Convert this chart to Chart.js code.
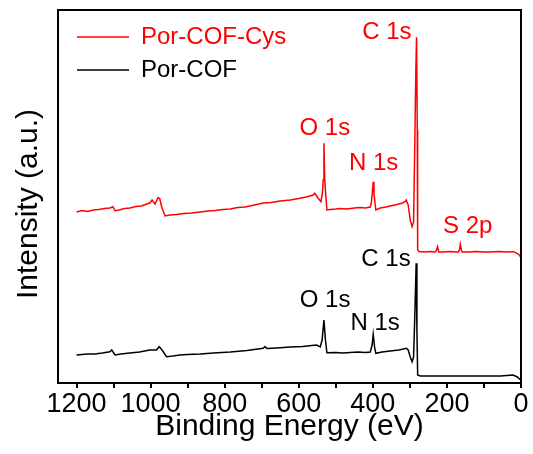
<!DOCTYPE html>
<html><head><meta charset="utf-8">
<script src="https://cdn.jsdelivr.net/npm/chart.js@4.4.0/dist/chart.umd.min.js"></script>
<style>html,body{margin:0;padding:0;background:#fff;}#wrap{width:533px;height:454px;}</style>
</head><body><div id="wrap"><canvas id="c" width="533" height="454"></canvas></div>
<script>
const seriesNames = ['Por-COF-Cys', 'Por-COF'];
const seriesColors = ['#ff0000', '#000000'];

const cysEnergy = [1200,1185,1170,1155,1140,1125,1110,1102,1096,1085,1070,1056,1040,1025,1010,1002,996,988,980,975,970,961,948,930,910,890,866,845,825,805,785,765,745,720,696,675,650,623,600,580,561,557,548,540,536,534,532,530,529,524,515,500,488,470,450,434,420,407,404,402,399,397,395,392,380,365,353,335,320,313.5,310,304.6,299,294,290,287,284,282,280,279,275,260,245,231.6,228,225.4,222,210,190,175,169.5,166,164,161,158.6,140,120,100,83,60,40,20,7.3,0];
const cysIntensity = [171,172.5,171.5,173,173.5,174.5,175,176.3,172.3,173,174.5,175,176.5,177,179,180,183,179,185.3,184,176,167,168,168.5,169.5,170,171,172,172.5,173.5,174,175.5,176,178,180,180.5,182,183,184.5,186,188,189.7,185,181.3,190,203,239.7,205,198,173,173.5,174,174.5,174,175,175.5,175,176,180,188,201.3,190,183,173,175,176,177,178.5,180,181.3,183,178,163,156.3,161,233,310,345.7,253,133,131.5,131,131.5,131,133,136.3,131,131,131.5,131,131,133,138.7,133,131,131,131.5,131,131,131.5,131,131.3,129,125.7];

const cofEnergy = [1200,1185,1170,1151,1130,1110,1105,1096,1080,1056,1030,1002,984,977,969,957,940,921,900,866,830,785,740,696,691,686,660,623,590,552,542,537,532,528,524,500,480,461,440,420,407,402,399,395,392,375,353,330,309,304.6,299,294,290,287,283,281,279,272,250,220,191,150,100,56,21,10,2.7,0];
const cofIntensity = [28,28.5,29,29,30,31.3,33,28,29,30,31,33,33,36.3,33,26.3,27,28,28.5,29,30,31,32.5,34.7,36.5,34.5,35,36,36.5,38,36,43,63,43,30.3,30.5,30,30.5,31,30.5,31,38,48.7,35,29.7,31,32,33,34.7,33,26,21.3,26,63,119.7,53,8,7,7,7,7,7,7,7,8,6,3.7,3];

const xTickMarks = [1200,1100,1000,900,800,700,600,500,400,300,200,100,0];
const xTickLabels = [1200,1000,800,600,400,200,0];

const peakLabels = ['C 1s','O 1s','N 1s','S 2p','C 1s','O 1s','N 1s'];
const peakLabelEnergy = [362,529.7,397.8,143.8,364.6,528.9,393.8];
const peakLabelIntensity = [350.7,254.7,219.7,156.3,123.7,83,59.7];
const peakLabelSeries = [0,0,0,0,1,1,1];

const FONT = '"Liberation Sans", Arial, Helvetica, sans-serif';
Chart.defaults.font.family = FONT;
Chart.defaults.color = '#000';

const framePlugin = {
  id: 'frame',
  afterDatasetsDraw(chart) {
    const {ctx, chartArea: a} = chart;
    ctx.save();
    ctx.strokeStyle = '#000';
    ctx.lineWidth = 2;
    ctx.strokeRect(a.left, a.top, a.right - a.left, a.bottom - a.top);
    ctx.restore();
  }
};

const peakLabelPlugin = {
  id: 'peakLabels',
  afterDatasetsDraw(chart) {
    const {ctx} = chart;
    const xs = chart.scales.x, ys = chart.scales.y;
    ctx.save();
    ctx.font = '24px ' + FONT;
    ctx.textAlign = 'center';
    ctx.textBaseline = 'middle';
    peakLabels.forEach((t, i) => {
      ctx.fillStyle = seriesColors[peakLabelSeries[i]];
      ctx.fillText(t, xs.getPixelForValue(peakLabelEnergy[i]), ys.getPixelForValue(peakLabelIntensity[i]));
    });
    ctx.restore();
  }
};

const yTitlePlugin = {
  id: 'yTitle',
  afterDraw(chart) {
    const {ctx, chartArea: a} = chart;
    ctx.save();
    ctx.translate(29, (a.top + a.bottom) / 2 + 7.5);
    ctx.rotate(-Math.PI / 2);
    ctx.font = '30px ' + FONT;
    ctx.fillStyle = '#000';
    ctx.textAlign = 'center';
    ctx.textBaseline = 'middle';
    ctx.fillText('Intensity (a.u.)', 0, 0);
    ctx.restore();
  }
};

const legendShiftPlugin = {
  id: 'legendShift',
  afterLayout(chart) {
    const lg = chart.legend;
    if (lg) {
      const h = lg.height;
      lg.left = chart.chartArea.left + 10;
      lg.top = chart.chartArea.top + 6;
      lg.bottom = lg.top + h;
    }
  }
};

new Chart(document.getElementById('c'), {
  type: 'line',
  data: {
    datasets: [
      { label: seriesNames[0], data: cysEnergy.map((e, i) => ({x: e, y: cysIntensity[i]})),
        borderColor: seriesColors[0], backgroundColor: seriesColors[0], borderWidth: 1.5,
        pointRadius: 0, tension: 0, fill: false },
      { label: seriesNames[1], data: cofEnergy.map((e, i) => ({x: e, y: cofIntensity[i]})),
        borderColor: seriesColors[1], backgroundColor: seriesColors[1], borderWidth: 1.5,
        pointRadius: 0, tension: 0, fill: false }
    ]
  },
  options: {
    responsive: false, animation: false, devicePixelRatio: 1,
    layout: {padding: {left: 0, top: 10, right: 12, bottom: 0}},
    scales: {
      x: {
        type: 'linear', reverse: true, min: 0, max: 1250,
        afterFit(s) { s.height = 71; },
        afterBuildTicks(s) { s.ticks = xTickMarks.map(v => ({value: v})); },
        ticks: {
          autoSkip: false, maxRotation: 0, minRotation: 0, padding: 0, color: '#000',
          font: {size: 27},
          callback(v) { return xTickLabels.includes(v) ? String(v) : ''; }
        },
        grid: {display: true, drawOnChartArea: false, drawTicks: true, tickLength: 5, color: '#000', lineWidth: 2},
        border: {display: false},
        title: {display: true, text: 'Binding Energy (eV)', color: '#000', font: {size: 30}, padding: {top: 0, bottom: 9}}
      },
      y: {
        min: 0, max: 373,
        afterFit(s) { s.width = 58; },
        ticks: {display: false},
        grid: {display: false},
        border: {display: false}
      }
    },
    plugins: {
      legend: {
        position: 'chartArea', align: 'start',
        labels: {
          usePointStyle: true, pointStyle: 'line', pointStyleWidth: 52, padding: 9,
          font: {size: 24},
          generateLabels(chart) {
            const items = Chart.defaults.plugins.legend.labels.generateLabels(chart);
            items.forEach(it => { it.fontColor = it.strokeStyle; it.lineWidth = 1.5; });
            return items;
          }
        }
      },
      tooltip: {enabled: false}
    }
  },
  plugins: [legendShiftPlugin, framePlugin, peakLabelPlugin, yTitlePlugin]
});
</script></body></html>
